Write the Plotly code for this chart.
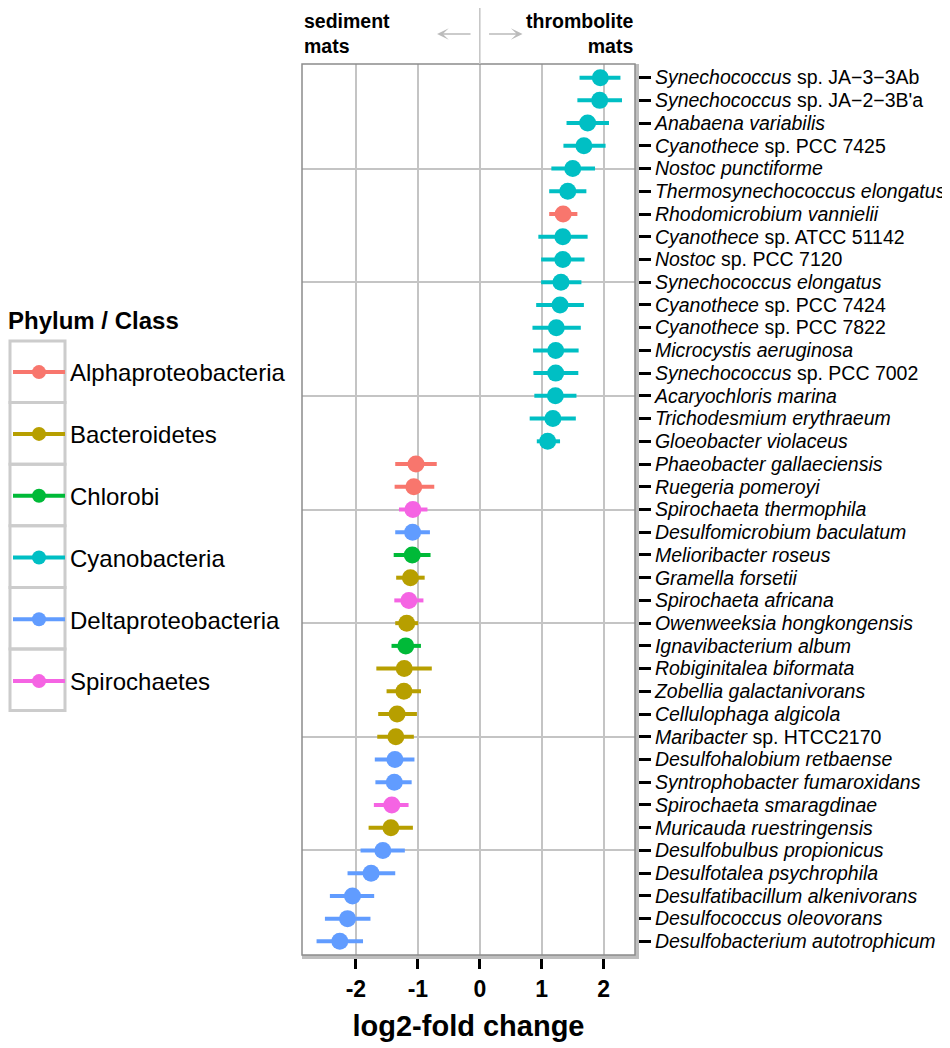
import plotly.graph_objects as go

# species, top to bottom as in the figure
species = [
    "<i>Synechococcus</i> sp. JA−3−3Ab",
    "<i>Synechococcus</i> sp. JA−2−3B'a",
    "<i>Anabaena variabilis</i>",
    "<i>Cyanothece</i> sp. PCC 7425",
    "<i>Nostoc punctiforme</i>",
    "<i>Thermosynechococcus elongatus</i>",
    "<i>Rhodomicrobium vannielii</i>",
    "<i>Cyanothece</i> sp. ATCC 51142",
    "<i>Nostoc</i> sp. PCC 7120",
    "<i>Synechococcus elongatus</i>",
    "<i>Cyanothece</i> sp. PCC 7424",
    "<i>Cyanothece</i> sp. PCC 7822",
    "<i>Microcystis aeruginosa</i>",
    "<i>Synechococcus</i> sp. PCC 7002",
    "<i>Acaryochloris marina</i>",
    "<i>Trichodesmium erythraeum</i>",
    "<i>Gloeobacter violaceus</i>",
    "<i>Phaeobacter gallaeciensis</i>",
    "<i>Ruegeria pomeroyi</i>",
    "<i>Spirochaeta thermophila</i>",
    "<i>Desulfomicrobium baculatum</i>",
    "<i>Melioribacter roseus</i>",
    "<i>Gramella forsetii</i>",
    "<i>Spirochaeta africana</i>",
    "<i>Owenweeksia hongkongensis</i>",
    "<i>Ignavibacterium album</i>",
    "<i>Robiginitalea biformata</i>",
    "<i>Zobellia galactanivorans</i>",
    "<i>Cellulophaga algicola</i>",
    "<i>Maribacter</i> sp. HTCC2170",
    "<i>Desulfohalobium retbaense</i>",
    "<i>Syntrophobacter fumaroxidans</i>",
    "<i>Spirochaeta smaragdinae</i>",
    "<i>Muricauda ruestringensis</i>",
    "<i>Desulfobulbus propionicus</i>",
    "<i>Desulfotalea psychrophila</i>",
    "<i>Desulfatibacillum alkenivorans</i>",
    "<i>Desulfococcus oleovorans</i>",
    "<i>Desulfobacterium autotrophicum</i>",
]

phylum = (
    ["Cyanobacteria"] * 6 + ["Alphaproteobacteria"] + ["Cyanobacteria"] * 10
    + ["Alphaproteobacteria"] * 2
    + ["Spirochaetes", "Deltaproteobacteria", "Chlorobi", "Bacteroidetes",
       "Spirochaetes", "Bacteroidetes", "Chlorobi", "Bacteroidetes",
       "Bacteroidetes", "Bacteroidetes", "Bacteroidetes",
       "Deltaproteobacteria", "Deltaproteobacteria", "Spirochaetes",
       "Bacteroidetes"]
    + ["Deltaproteobacteria"] * 5
)

lfc = [1.945, 1.935, 1.74, 1.68, 1.50, 1.42, 1.345, 1.34, 1.34, 1.31,
       1.295, 1.235, 1.225, 1.225, 1.22, 1.18, 1.095,
       -1.03, -1.065, -1.08, -1.085, -1.09, -1.12, -1.145, -1.18, -1.195,
       -1.22, -1.225, -1.335, -1.355, -1.37, -1.38, -1.42, -1.435,
       -1.565, -1.755, -2.055, -2.135, -2.26]
lfc_lo = [1.61, 1.575, 1.40, 1.35, 1.155, 1.12, 1.12, 0.945, 0.99, 0.99,
          0.91, 0.85, 0.86, 0.865, 0.88, 0.805, 0.92,
          -1.365, -1.375, -1.305, -1.365, -1.39, -1.35, -1.38, -1.365, -1.425,
          -1.67, -1.505, -1.64, -1.655, -1.695, -1.685, -1.71, -1.795,
          -1.925, -2.135, -2.42, -2.50, -2.635]
lfc_hi = [2.27, 2.295, 2.085, 2.03, 1.86, 1.72, 1.575, 1.74, 1.69, 1.64,
          1.68, 1.63, 1.595, 1.59, 1.56, 1.55, 1.295,
          -0.695, -0.735, -0.845, -0.805, -0.795, -0.89, -0.91, -0.995, -0.95,
          -0.775, -0.95, -1.015, -1.065, -1.055, -1.10, -1.15, -1.08,
          -1.21, -1.365, -1.705, -1.765, -1.885]

groups = ["Alphaproteobacteria", "Bacteroidetes", "Chlorobi",
          "Cyanobacteria", "Deltaproteobacteria", "Spirochaetes"]
colors = ["#F8766D", "#B79F00", "#00BA38", "#00BFC4", "#619CFF", "#F564E3"]

x_ticks = [-2, -1, 0, 1, 2]
x_ticktext = ["-2", "-1", "0", "1", "2"]

rows = list(range(1, len(species) + 1))
FONT = "Liberation Sans, Arial, sans-serif"
GRID = "#C4C4C4"

# the page puts the figure 8px in from the corner (body margin)
OFF = 8
# plot area on screen: left 302, right 635, top 64, bottom 955
PW, PH = 333, 891


def px_x(p):
    return (p - 302) / PW


def px_y(p):
    return (955 - p) / PH


fig = go.Figure()

for g, c in zip(groups, colors):
    idx = [i for i, p in enumerate(phylum) if p == g]
    fig.add_trace(go.Scatter(
        x=[lfc[i] for i in idx],
        y=[rows[i] for i in idx],
        mode="markers",
        marker=dict(color=c, size=17),
        error_x=dict(type="data", symmetric=False,
                     array=[lfc_hi[i] - lfc[i] for i in idx],
                     arrayminus=[lfc[i] - lfc_lo[i] for i in idx],
                     color=c, thickness=4, width=0),
        showlegend=False,
    ))
    # legend key: point with line through it, like a pointrange
    fig.add_trace(go.Scatter(
        x=[None], y=[None], mode="lines+markers", name=g, legendgroup=g,
        marker=dict(color=c, size=14), line=dict(color=c, width=4),
    ))

# gray boxes round the legend keys
box_h = 61.6
for k in range(len(groups)):
    fig.add_shape(type="rect", xref="paper", yref="paper",
                  x0=px_x(OFF + 2), x1=px_x(65),
                  y0=px_y(341 + (k + 1) * box_h), y1=px_y(341 + k * box_h),
                  line=dict(color="#CCCCCC", width=3), layer="below")

fig.add_annotation(x=px_x(6), xref="paper", xanchor="left",
                   y=px_y(320), yref="paper", yanchor="middle",
                   showarrow=False, text="<b>Phylum / Class</b>",
                   font=dict(family=FONT, size=24, color="black"))

# panel border
fig.add_shape(type="rect", xref="paper", yref="paper", x0=0, x1=1, y0=0, y1=1,
              line=dict(color="#8C8C8C", width=1.5))
# zero line carried up above the panel
fig.add_shape(type="line", xref="x", yref="paper", x0=0, x1=0, y0=1,
              y1=px_y(5), line=dict(color=GRID, width=1.5))

fig.add_annotation(x=0, xref="paper", xanchor="left", y=px_y(33.5),
                   yref="paper", yanchor="middle", align="left",
                   showarrow=False, text="<b>sediment<br>mats</b>",
                   font=dict(family=FONT, size=19.5, color="black"))
fig.add_annotation(x=1, xref="paper", xanchor="right", y=px_y(33.5),
                   yref="paper", yanchor="middle", align="right",
                   showarrow=False, text="<b>thrombolite<br>mats</b>",
                   font=dict(family=FONT, size=19.5, color="black"))
# arrows either side of zero
fig.add_annotation(x=-0.69, y=px_y(34), xref="x", yref="paper", text="",
                   ax=35, ay=0, axref="pixel", ayref="pixel",
                   showarrow=True, arrowhead=3, arrowsize=1.3, arrowwidth=1.5,
                   arrowcolor="#BBBBBB")
fig.add_annotation(x=0.69, y=px_y(34), xref="x", yref="paper", text="",
                   ax=-35, ay=0, axref="pixel", ayref="pixel",
                   showarrow=True, arrowhead=3, arrowsize=1.3, arrowwidth=1.5,
                   arrowcolor="#BBBBBB")

fig.update_xaxes(
    range=[-2.87, 2.505], tickvals=x_ticks, ticktext=x_ticktext,
    automargin=False,
    showgrid=True, gridcolor=GRID, gridwidth=1.5, zeroline=False,
    showline=True, linecolor="#BEBEBE", linewidth=4,
    ticks="outside", ticklen=10, tickwidth=3, tickcolor="black",
    tickfont=dict(family=FONT, size=23, color="black", weight="bold"),
    title=dict(text="<b>log2-fold change</b>", standoff=16,
               font=dict(family=FONT, size=29, color="black")),
)
fig.update_yaxes(
    range=[39.6, 0.4], tickmode="array", tickvals=rows, ticktext=species,
    automargin=False,
    side="right", showgrid=False, zeroline=False,
    showline=True, linecolor="#BEBEBE", linewidth=4,
    ticks="outside", ticklen=12, tickwidth=3, tickcolor="black",
    tickfont=dict(family=FONT, size=19.5, color="black"),
    minor=dict(tickvals=[5, 10, 15, 20, 25, 30, 35], showgrid=True,
               gridcolor=GRID, gridwidth=1.5),
)

fig.update_layout(
    width=950 - OFF, height=1048 - OFF, autosize=False,
    margin=dict(l=302 - OFF, r=950 - 635, t=64 - OFF, b=1048 - 955,
                autoexpand=False),
    plot_bgcolor="white", paper_bgcolor="white",
    font=dict(family=FONT, color="black"),
    legend=dict(
        x=px_x(OFF), xanchor="left", y=px_y(350), yanchor="top",
        font=dict(family=FONT, size=24, color="black"),
        itemwidth=52, tracegroupgap=27.6, bgcolor="rgba(0,0,0,0)",
    ),
)

fig.write_html("out.html")
